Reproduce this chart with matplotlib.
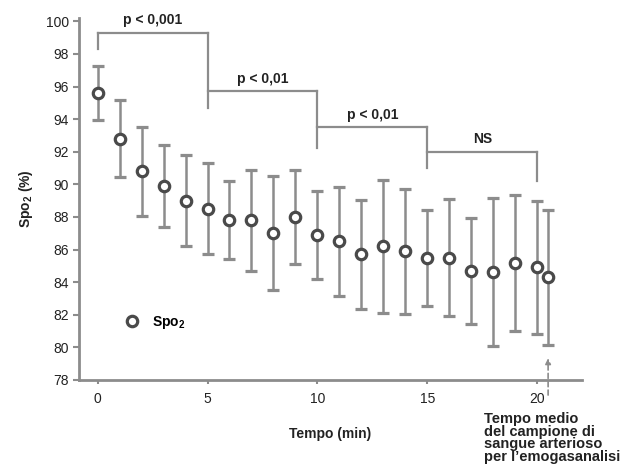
import numpy as np
import matplotlib
matplotlib.use("Agg")
import matplotlib.pyplot as plt
from matplotlib.lines import Line2D

plt.rcParams["font.family"] = ["Liberation Sans", "DejaVu Sans"]
plt.rcParams["mathtext.fontset"] = "custom"
plt.rcParams["mathtext.rm"] = "Liberation Sans"
plt.rcParams["mathtext.bf"] = "Liberation Sans:bold"

# minuti di osservazione (l'ultimo = prelievo per emogasanalisi)
tempo = [0, 1, 2, 3, 4, 5, 6, 7, 8, 9, 10, 11, 12, 13, 14, 15, 16, 17, 18, 19, 20, 20.5]
spo2_media = [95.6, 92.8, 90.8, 89.9, 89.0, 88.5, 87.8, 87.8, 87.0, 88.0, 86.9,
              86.5, 85.7, 86.2, 85.9, 85.5, 85.5, 84.7, 84.6, 85.2, 84.9, 84.3]
spo2_ds = [1.65, 2.35, 2.75, 2.5, 2.8, 2.8, 2.4, 3.1, 3.5, 2.9, 2.7,
           3.35, 3.37, 4.07, 3.84, 2.95, 3.6, 3.26, 4.55, 4.17, 4.1, 4.13]

# confronti tra intervalli: (inizio, fine, quota barra, fondo gamba sx, fondo gamba dx, etichetta)
confronti = [
    (0, 5, 99.3, 98.3, 94.7, "p < 0,001"),
    (5, 10, 95.7, None, 92.25, "p < 0,01"),
    (10, 15, 93.5, None, 91.0, "p < 0,01"),
    (15, 20, 92.0, None, 90.2, "NS"),
]

GRIGIO = "#8c8c8c"
SCURO = "#4a4a4a"

fig = plt.figure(figsize=(6.2, 4.65), dpi=100)
ax = fig.add_axes([0.127, 0.183, 0.812, 0.778])

ax.errorbar(tempo, spo2_media, yerr=spo2_ds, fmt="o", ms=7.5, mew=2.3,
            mfc="white", mec=SCURO, ecolor=GRIGIO, elinewidth=1.8,
            capsize=4.5, capthick=1.6, zorder=3)

for x0, x1, h, gamba_sx, gamba_dx, testo in confronti:
    ax.plot([x0, x1], [h, h], color=GRIGIO, lw=1.6, clip_on=False)
    if gamba_sx is not None:
        ax.plot([x0, x0], [h, gamba_sx], color=GRIGIO, lw=1.6, clip_on=False)
    ax.plot([x1, x1], [h, gamba_dx], color=GRIGIO, lw=1.6, clip_on=False)
    ax.text((x0 + x1) / 2, h + 0.35, testo, ha="center", va="bottom",
            fontsize=10, fontweight="bold", color="#222222", clip_on=False)

# freccia tratteggiata verso il prelievo arterioso
ax.annotate("", xy=(tempo[-1], 79.5), xytext=(tempo[-1], 76.9),
            annotation_clip=False,
            arrowprops=dict(arrowstyle="-|>", color=GRIGIO, lw=1.2,
                            linestyle=(0, (3, 2)), mutation_scale=8))
ax.text(17.6, 76.0, "Tempo medio\ndel campione di\nsangue arterioso\nper l\u2019emogasanalisi",
        ha="left", va="top", fontsize=10.5, fontweight="bold", linespacing=0.85,
        color="#222222", clip_on=False)

ax.set_xlim(-0.86, 22.05)
ax.set_ylim(78, 100.2)
ax.set_yticks(np.arange(78, 101, 2))
ax.set_xticks([0, 5, 10, 15, 20])

for lato in ["top", "right"]:
    ax.spines[lato].set_visible(False)
for lato in ["left", "bottom"]:
    ax.spines[lato].set_color(GRIGIO)
    ax.spines[lato].set_linewidth(2)

ax.tick_params(axis="y", colors=GRIGIO, length=4, width=1.5, labelsize=10,
               labelcolor="#222222", pad=3)
ax.tick_params(axis="x", colors=GRIGIO, length=3, width=1.5, labelsize=10,
               labelcolor="#222222", pad=6)

ax.set_xlabel("Tempo (min)", fontsize=10, fontweight="bold", labelpad=15, color="#222222")
ax.set_ylabel(r"Sp$\mathbf{o_2}$ (%)", fontsize=10, fontweight="bold", labelpad=8, color="#222222")

marcatore = Line2D([], [], ls="none", marker="o", ms=7.5, mew=2.3,
                   mfc="white", mec=SCURO)
ax.legend([marcatore], [r"Sp$\mathbf{o_2}$"], loc="lower left",
          bbox_to_anchor=(0.065, 0.1), frameon=False, handlelength=1.2,
          handletextpad=0.8, prop={"weight": "bold", "size": 10})

fig.savefig("out.png", dpi=100)
